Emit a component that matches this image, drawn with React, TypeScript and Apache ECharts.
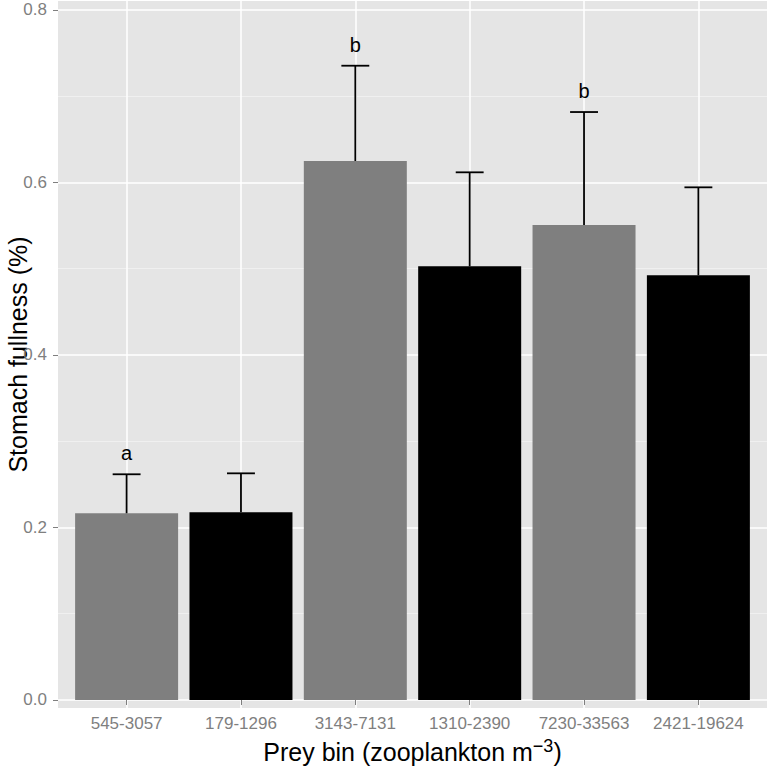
import React, { useEffect, useRef } from "react";
import * as echarts from "echarts";

const categories = ["545-3057", "179-1296", "3143-7131", "1310-2390", "7230-33563", "2421-19624"];
const means = [0.2165, 0.2176, 0.6249, 0.5028, 0.5507, 0.4924];
const uppers = [0.2617, 0.2628, 0.7354, 0.6118, 0.6817, 0.5944];
const groups = ["A", "B", "A", "B", "A", "B"];
const sigLabels = ["a", "", "b", "", "b", ""];
const yTicks = [0, 0.2, 0.4, 0.6, 0.8];
const yMinorTicks = [0.1, 0.3, 0.5, 0.7];

const groupColor: Record<string, string> = { A: "#7F7F7F", B: "#000000" };
const FONT = "Liberation Sans, Arial, Helvetica, sans-serif";
const Y_MIN = -0.00928;
const Y_MAX = 0.81043;

export default function App() {
  const ref = useRef<HTMLDivElement>(null);
  useEffect(() => {
    if (!ref.current) return;
    const chart = echarts.init(ref.current, null, { renderer: "svg" });
    const xs = categories.map((_, i) => i + 1);
    chart.setOption({
      animation: false,
      backgroundColor: "#FFFFFF",
      grid: {
        left: 58,
        right: 3,
        top: 1,
        bottom: 62,
        show: true,
        backgroundColor: "#E5E5E5",
        borderWidth: 0,
        outerBoundsMode: "none",
      },
      xAxis: {
        type: "value",
        min: 0.4,
        max: 6.6,
        axisLine: { show: false },
        axisTick: { show: true, length: 5, customValues: xs, lineStyle: { color: "#7F7F7F", width: 1 } },
        axisLabel: {
          customValues: xs,
          formatter: (v: number) => categories[Math.round(v) - 1] ?? "",
          color: "#7F7F7F",
          fontSize: 17,
          fontFamily: FONT,
          margin: 7,
        },
        splitLine: { show: true, lineStyle: { color: "#FFFFFF", width: 1.5 } },
      },
      yAxis: [
        {
          type: "value",
          min: Y_MIN,
          max: Y_MAX,
          axisLine: { show: false },
          axisTick: { show: true, length: 5, customValues: yTicks, lineStyle: { color: "#7F7F7F", width: 1 } },
          axisLabel: {
            customValues: yTicks,
            formatter: (v: number) => v.toFixed(1),
            color: "#7F7F7F",
            fontSize: 17,
            fontFamily: FONT,
            margin: 11,
          },
          splitLine: { show: true, lineStyle: { color: "#FFFFFF", width: 1.5 } },
        },
        {
          type: "value",
          min: Y_MIN,
          max: Y_MAX,
          position: "left",
          axisLine: { show: false },
          axisTick: { show: false, customValues: yMinorTicks },
          axisLabel: { show: false, customValues: yMinorTicks },
          splitLine: { show: true, lineStyle: { color: "#F2F2F2", width: 0.8 } },
        },
      ],
      series: [
        {
          type: "bar",
          xAxisIndex: 0,
          yAxisIndex: 0,
          barWidth: 103,
          z: 2,
          data: means.map((m, i) => ({
            value: [xs[i], m],
            itemStyle: { color: groupColor[groups[i]] },
          })),
        },
        {
          type: "custom",
          xAxisIndex: 0,
          yAxisIndex: 0,
          z: 3,
          data: means.map((m, i) => [xs[i], m, uppers[i]]),
          renderItem: (params: any, api: any) => {
            const x = api.value(0);
            const m = api.value(1);
            const hi = api.value(2);
            const p0 = api.coord([x, m]);
            const p1 = api.coord([x, hi]);
            const cl = api.coord([x - 0.122, hi]);
            const cr = api.coord([x + 0.122, hi]);
            const label = sigLabels[params.dataIndex];
            const children: any[] = [
              {
                type: "line",
                shape: { x1: p0[0], y1: p0[1], x2: p1[0], y2: p1[1] },
                style: { stroke: "#000000", lineWidth: 1.8 },
              },
              {
                type: "line",
                shape: { x1: cl[0], y1: cl[1], x2: cr[0], y2: cr[1] },
                style: { stroke: "#000000", lineWidth: 1.8 },
              },
            ];
            if (label) {
              children.push({
                type: "text",
                x: p1[0],
                y: p1[1] - 21,
                style: {
                  text: label,
                  fill: "#000000",
                  fontSize: 20,
                  fontFamily: FONT,
                  textAlign: "center",
                  textVerticalAlign: "middle",
                },
              });
            }
            return { type: "group", children };
          },
        },
      ],
      graphic: [
        {
          type: "text",
          x: 412.5,
          y: 752,
          style: {
            text: "Prey bin (zooplankton m{sup|−3})",
            fill: "#000000",
            fontSize: 25,
            fontFamily: FONT,
            textAlign: "center",
            textVerticalAlign: "middle",
            rich: {
              sup: { fontSize: 18, fontFamily: FONT, fill: "#000000", verticalAlign: "top", padding: [0, 0, 12, 0] },
            },
          },
        },
        {
          type: "text",
          x: 18,
          y: 354.5,
          rotation: Math.PI / 2,
          style: {
            text: "Stomach fullness (%)",
            fill: "#000000",
            fontSize: 25,
            fontFamily: FONT,
            textAlign: "center",
            textVerticalAlign: "middle",
          },
        },
      ],
    });
    return () => chart.dispose();
  }, []);
  return (
    <div
      ref={ref}
      style={{ position: "fixed", left: 0, top: 0, width: 770, height: 770 }}
    />
  );
}
